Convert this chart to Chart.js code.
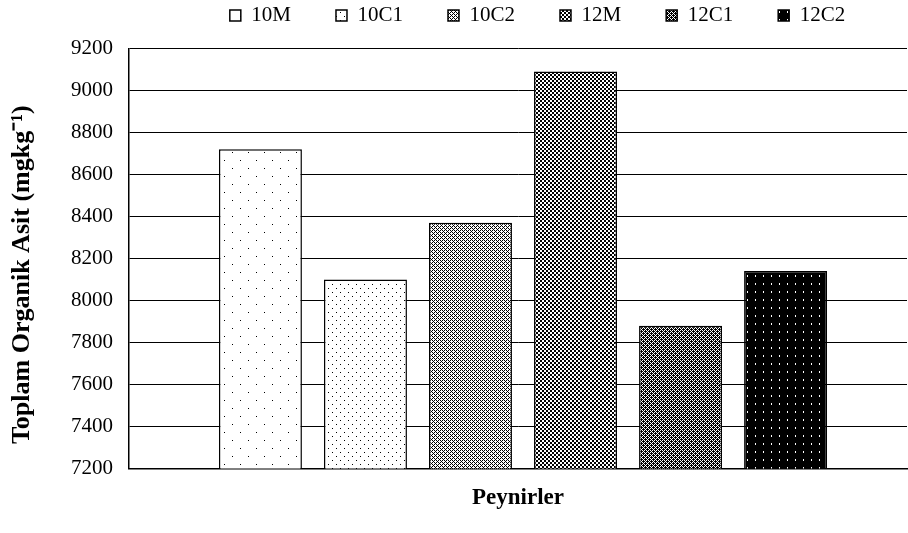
<!DOCTYPE html>
<html>
<head>
<meta charset="utf-8">
<script src="https://cdn.jsdelivr.net/npm/chart.js@4.4.1/dist/chart.umd.min.js"></script>
<style>
  html, body { margin: 0; padding: 0; background: #fff; }
  #wrap { width: 908px; height: 533px; }
</style>
</head>
<body>
<div id="wrap"><canvas id="organicChart"></canvas></div>
<script>
// Data
const categories = [''];
const seriesNames = ['10M', '10C1', '10C2', '12M', '12C1', '12C2'];
const seriesValues = [8720, 8100, 8370, 9090, 7880, 8140];
const yMin = 7200;
const yMax = 9200;
const yStep = 200;

// Small bitmap tiles used as hatch fills ('x' = black, 'o' = white, 'g' = grey)
function makePattern(bg, rows) {
    const c = document.createElement('canvas');
    c.width = rows[0].length;
    c.height = rows.length;
    const g = c.getContext('2d');
    g.fillStyle = bg;
    g.fillRect(0, 0, c.width, c.height);
    rows.forEach((row, y) => {
        for (let x = 0; x < row.length; x++) {
            const ch = row[x];
            if (ch === 'x') g.fillStyle = '#000';
            else if (ch === 'o') g.fillStyle = '#fff';
            else if (ch === 'g') g.fillStyle = '#888';
            else continue;
            g.fillRect(x, y, 1, 1);
        }
    });
    return g.createPattern(c, 'repeat');
}

function dotRows(w, h, ch, pts) {
    const rows = [];
    for (let y = 0; y < h; y++) rows.push(Array(w).fill('.'));
    pts.forEach(p => { rows[p[1]][p[0]] = ch; });
    return rows.map(r => r.join(''));
}

const fills = [
    makePattern('#fff', dotRows(16, 16, 'x', [[0, 0], [8, 8]])),
    makePattern('#fff', dotRows(8, 8, 'x', [[0, 0], [4, 4]])),
    makePattern('#fff', ['x.x.', '.x..', 'x.x.', '...x']),
    makePattern('#fff', ['xx..', 'xx..', '..xx', '..xx']),
    makePattern('#000', ['oxox', 'xoxx', 'oxox', 'xxxo']),
    makePattern('#000', dotRows(8, 8, 'o', [[3, 3], [3, 4]]))
];

const datasets = seriesNames.map((name, i) => ({
    label: name,
    data: [seriesValues[i]],
    backgroundColor: fills[i],
    borderColor: '#000',
    borderWidth: 1.5,
    borderSkipped: false,
    categoryPercentage: 0.81,
    barPercentage: 0.79
}));

const serif = 'Liberation Serif, Times New Roman, serif';

// Legend gets extra room under it and sits right of centre;
// the bar group is nudged a little right of the plot centre
const placement = {
    id: 'placement',
    beforeLayout(chart) {
        const lg = chart.legend;
        if (lg && !lg._extraRoom) {
            const fit = lg.fit;
            lg.fit = function () {
                fit.call(this);
                this.height += 12.5;
            };
            lg._extraRoom = true;
        }
    },
    afterLayout(chart) {
        chart.legend.left += 84;
        chart.legend.right += 84;
        const x = chart.scales.x;
        x._startPixel += 5;
        x._endPixel += 5;
    }
};

const ctx = document.getElementById('organicChart').getContext('2d');
new Chart(ctx, {
    type: 'bar',
    data: { labels: categories, datasets: datasets },
    plugins: [placement],
    options: {
        responsive: true,
        maintainAspectRatio: false,
        animation: false,
        layout: { padding: { top: 2, right: 1, bottom: 0, left: 0 } },
        plugins: {
            tooltip: { enabled: false },
            legend: {
                position: 'top',
                labels: {
                    color: '#000',
                    font: { family: serif, size: 21 },
                    boxWidth: 11,
                    boxHeight: 11,
                    padding: 3,
                    generateLabels(chart) {
                        const items = Chart.defaults.plugins.legend.labels.generateLabels(chart);
                        items.forEach((it, i) => {
                            if (i < items.length - 1) it.text += '        ';
                        });
                        return items;
                    }
                }
            }
        },
        scales: {
            x: {
                grid: { display: false },
                border: { display: true, color: '#000', width: 1.5 },
                ticks: { display: false },
                title: {
                    display: true,
                    text: 'Peynirler',
                    color: '#000',
                    font: { family: serif, size: 23, weight: 'bold' },
                    padding: { top: 0, bottom: 21 }
                },
                afterFit(scale) { scale.height = 64.5; }
            },
            y: {
                min: yMin,
                max: yMax,
                grid: { color: '#000', lineWidth: 1, drawTicks: false },
                border: { display: true, color: '#000', width: 1.5 },
                ticks: {
                    stepSize: yStep,
                    color: '#000',
                    padding: 16,
                    font: { family: serif, size: 21 },
                    callback: v => String(v)
                },
                title: {
                    display: true,
                    text: 'Toplam Organik Asit (mgkg⁻¹)     ',
                    color: '#000',
                    font: { family: serif, size: 26, weight: 'bold' },
                    padding: { top: 7, bottom: 0 }
                },
                afterFit(scale) { scale.width = 129; }
            }
        }
    }
});
</script>
</body>
</html>
